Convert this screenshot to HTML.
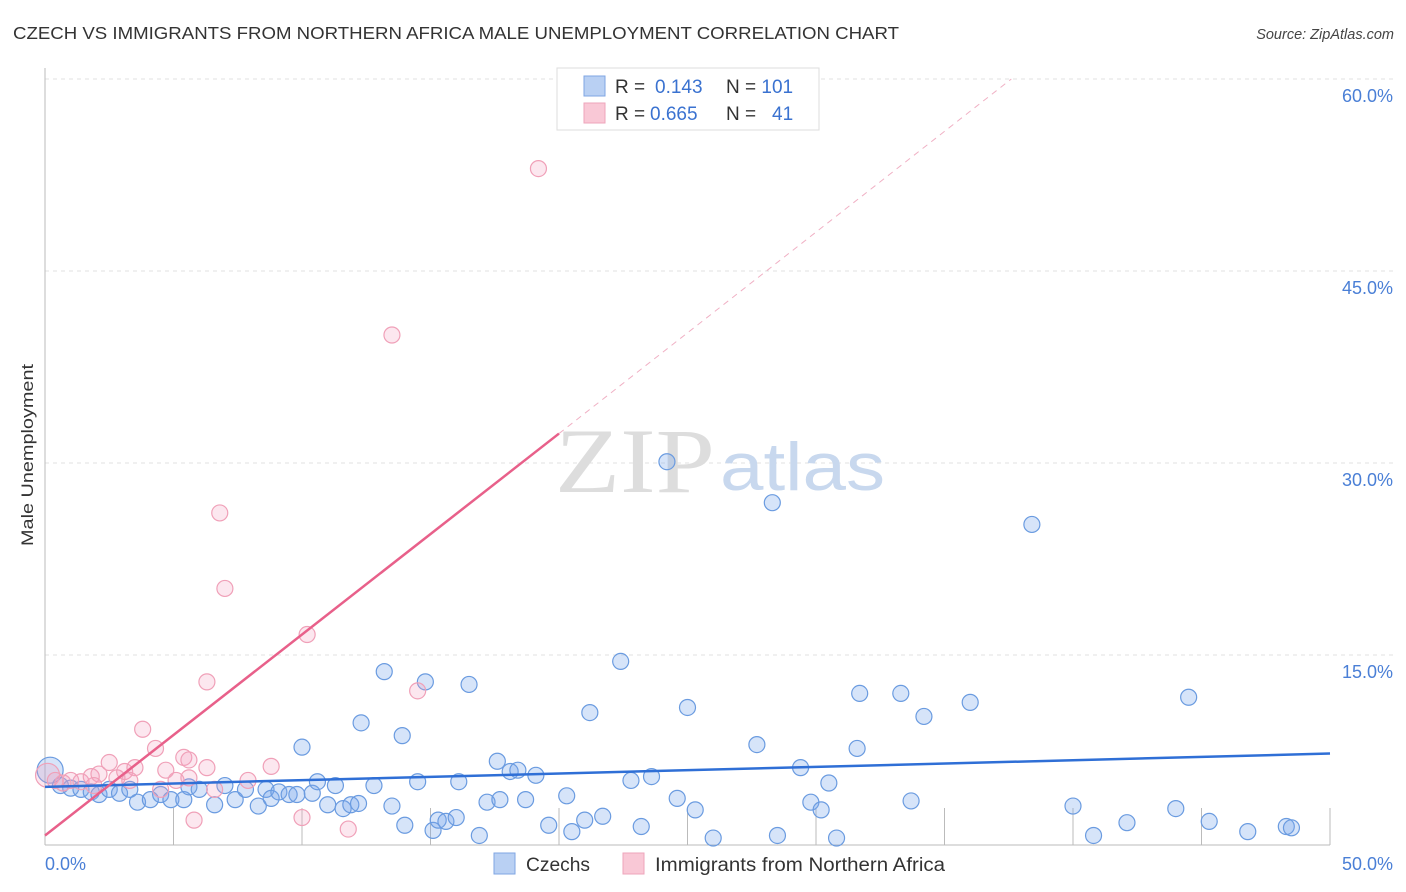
<!DOCTYPE html>
<html><head><meta charset="utf-8"><style>
body{margin:0;background:#fff;font-family:"Liberation Sans",sans-serif;}
svg{display:block}
</style></head><body>
<svg id="chart" width="1406" height="892" xmlns="http://www.w3.org/2000/svg">
<text x="13" y="39" font-size="17.5" fill="#333" textLength="886" lengthAdjust="spacingAndGlyphs">CZECH VS IMMIGRANTS FROM NORTHERN AFRICA MALE UNEMPLOYMENT CORRELATION CHART</text>
<text x="1394" y="39" font-size="14.5" fill="#444" font-style="italic" text-anchor="end">Source: ZipAtlas.com</text>
<g id="grid"></g>
<g>
<text x="555" y="492" font-family="Liberation Serif,serif" font-size="92" fill="#ddd" textLength="160" lengthAdjust="spacingAndGlyphs">ZIP</text>
<text x="720" y="490" font-size="68" fill="#c8d8ee" textLength="165" lengthAdjust="spacingAndGlyphs">atlas</text>
</g>
<line x1="45" y1="68" x2="45" y2="845" stroke="#bbb"/>
<line x1="45" y1="845" x2="1330" y2="845" stroke="#bbb"/>
<g id="ticks"></g>
<g id="ylabels"></g>
<text x="45" y="870" font-size="18" fill="#4a7fd6">0.0%</text>
<text x="1393" y="870" font-size="18" fill="#4a7fd6" text-anchor="end">50.0%</text>
<text transform="translate(33,455) rotate(-90)" font-size="17" fill="#333" text-anchor="middle" textLength="182" lengthAdjust="spacingAndGlyphs">Male Unemployment</text>
<g id="pts"></g>
<g id="trends"></g>
<g>
<rect x="557" y="68" width="262" height="62" fill="#fff" stroke="#ddd"/>
<rect x="584" y="76" width="21" height="20" fill="#b9d0f3" stroke="#7fa6e3"/>
<rect x="584" y="103" width="21" height="20" fill="#f9c8d6" stroke="#eea5bb"/>
<text x="615" y="93" font-size="19" fill="#333">R = <tspan x="655" fill="#3a72d0">0.143</tspan><tspan x="726">N = </tspan><tspan fill="#3a72d0">101</tspan></text>
<text x="615" y="120" font-size="19" fill="#333">R = <tspan x="650" fill="#3a72d0">0.665</tspan><tspan x="726">N = </tspan><tspan x="772" fill="#3a72d0">41</tspan></text>
</g>
<g>
<rect x="494" y="853" width="21" height="21" fill="#b9d0f3" stroke="#7fa6e3"/>
<text x="526" y="871" font-size="19" fill="#333" textLength="64" lengthAdjust="spacingAndGlyphs">Czechs</text>
<rect x="623" y="853" width="21" height="21" fill="#f9c8d6" stroke="#eea5bb"/>
<text x="655" y="871" font-size="19" fill="#333" textLength="290" lengthAdjust="spacingAndGlyphs">Immigrants from Northern Africa</text>
</g>
</svg>
<script>
const yTicks=[15,30,45,60];
const xTicks=[0,5,10,15,20,25,30,35,40,45,50];
const blueX=[0.2,0.6,1.0,1.4,1.8,2.1,2.5,2.9,3.3,3.6,4.1,4.5,4.9,5.4,5.6,6.0,6.6,7.0,7.4,7.8,8.3,8.6,8.8,9.1,9.5,9.8,10.0,10.4,10.6,11.0,11.3,11.6,11.9,12.2,12.3,12.8,13.2,13.5,13.9,14.0,14.5,14.8,15.1,15.3,15.6,16.0,16.1,16.5,16.9,17.2,17.6,17.7,18.1,18.4,18.7,19.1,19.6,20.3,20.5,21.0,21.2,21.7,22.4,22.8,23.2,23.6,24.6,25.0,25.3,26.0,27.7,28.5,29.4,29.8,30.2,30.5,30.8,31.6,31.7,33.3,33.7,34.2,36.0,40.0,40.8,42.1,44.0,44.5,45.3,46.8,48.3,48.5,24.2,28.3,38.4];
const blueY=[6.0,4.8,4.6,4.5,4.3,4.1,4.5,4.2,4.5,3.5,3.7,4.1,3.7,3.7,4.7,4.5,3.3,4.8,3.7,4.5,3.2,4.5,3.8,4.3,4.1,4.1,7.8,4.2,5.1,3.3,4.8,3.0,3.3,3.4,9.7,4.8,13.7,3.2,8.7,1.7,5.1,12.9,1.3,2.1,2.0,2.3,5.1,12.7,0.9,3.5,6.7,3.7,5.9,6.0,3.7,5.6,1.7,4.0,1.2,2.1,10.5,2.4,14.5,5.2,1.6,5.5,3.8,10.9,2.9,0.7,8.0,0.9,6.2,3.5,2.9,5.0,0.7,7.7,12.0,12.0,3.6,10.2,11.3,3.2,0.9,1.9,3.0,11.7,2.0,1.2,1.6,1.5,30.1,26.9,25.2];
const pinkX=[0.1,0.4,0.7,1.0,1.4,1.8,2.1,2.5,2.8,3.1,3.5,3.8,4.3,4.5,4.7,5.1,5.4,5.6,5.8,6.3,6.3,6.6,6.8,7.0,7.9,8.8,10.0,10.2,11.8,14.5,13.5,19.2,3.3,1.9,5.6];
const pinkY=[5.6,5.2,5.0,5.2,5.1,5.5,5.7,6.6,5.4,5.9,6.2,9.2,7.7,4.5,6.0,5.2,7.0,6.8,2.1,12.9,6.2,4.5,26.1,20.2,5.2,6.3,2.3,16.6,1.4,12.2,40.0,53.0,5.2,4.8,5.4];
const blueTrend=[4.7,7.3];
const pinkTrend=[0.9,32.3,60.0];
const pinkTrendX=[0,20,37.6];
const NS="http://www.w3.org/2000/svg";
const sx=v=>45+v/50*1285;
const sy=v=>847-v/15*192;
function mk(tag,attrs,parent){const e=document.createElementNS(NS,tag);for(const k in attrs)e.setAttribute(k,attrs[k]);parent.appendChild(e);return e;}
const grid=document.getElementById('grid'),ticks=document.getElementById('ticks'),yl=document.getElementById('ylabels');
yTicks.forEach(t=>{
  const l=mk('line',{x1:45,x2:1395,y1:sy(t),y2:sy(t),stroke:'#e2e2e2','stroke-dasharray':'4,4'},grid);
  
  
  const tx=mk('text',{x:1393,y:sy(t)+23,'font-size':18,fill:'#4a7fd6','text-anchor':'end'},yl);
  tx.textContent=t.toFixed(1)+'%';
  
  
});
xTicks.forEach(t=>{
  const l=mk('line',{x1:sx(t),x2:sx(t),y1:808,y2:845,stroke:'#bbb'},ticks);
  
  
});
const pts=document.getElementById('pts');
blueX.forEach((x,i)=>{
  const c=mk('circle',{cx:sx(x),cy:sy(blueY[i]),r:i===0?13:8,fill:'rgba(120,165,235,0.3)',stroke:'#6a9be0','stroke-width':1.2},pts);
  
  
});
pinkX.forEach((x,i)=>{
  const c=mk('circle',{cx:sx(x),cy:sy(pinkY[i]),r:i===0?12:8,fill:'rgba(245,160,190,0.25)',stroke:'#f0a0b8','stroke-width':1.2},pts);
  
  
});
const tr=document.getElementById('trends');
const b=mk('line',{x1:sx(0),y1:sy(blueTrend[0]),x2:sx(50),y2:sy(blueTrend[1]),stroke:'#2f6fd6','stroke-width':2.5},tr);


const p=mk('line',{x1:sx(pinkTrendX[0]),y1:sy(pinkTrend[0]),x2:sx(pinkTrendX[1]),y2:sy(pinkTrend[1]),stroke:'#e8608a','stroke-width':2.5},tr);


const pd=mk('line',{x1:sx(pinkTrendX[1]),y1:sy(pinkTrend[1]),x2:sx(pinkTrendX[2]),y2:sy(pinkTrend[2]),stroke:'#f0b0c4','stroke-width':1,'stroke-dasharray':'6,5'},tr);


</script>
</body></html>
